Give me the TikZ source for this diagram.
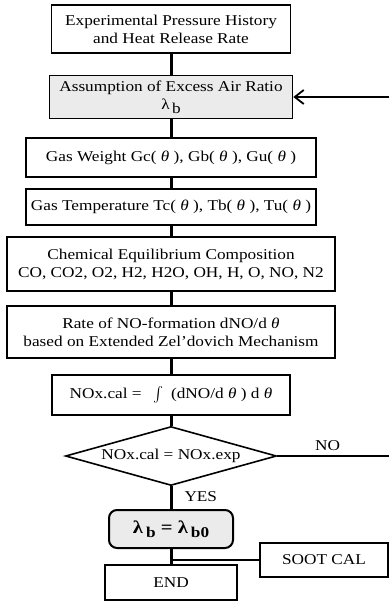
\documentclass[tikz,border=0pt]{standalone}
\usepackage{fontspec}
\setmainfont{Liberation Serif}[FakeStretch=1.15]
\usetikzlibrary{shapes.geometric, arrows.meta}

\newcommand{\subb}[1]{\raisebox{-4pt}{\fontsize{15pt}{15pt}\selectfont #1}}

\begin{document}
\begin{tikzpicture}[x=1pt, y=-1pt,
    box/.style={rectangle, draw, line width=1.6pt, inner sep=2pt,
                align=center, font=\fontsize{15pt}{18pt}\selectfont},
    shade/.style={fill=black!8},
    cond/.style={diamond, draw, line width=1.6pt, inner sep=0pt,
                 shape aspect=3.6, minimum width=211pt, minimum height=59pt,
                 font=\fontsize{15pt}{18pt}\selectfont},
    flow/.style={line width=3pt},
    back/.style={line width=1.8pt},
    lbl/.style={font=\fontsize{15pt}{18pt}\selectfont, inner sep=0pt},
  ]

  % page frame: 389 x 601 (1 unit = 1pt, y grows downwards)
  \useasboundingbox (0,0) rectangle (389,601);

  \def\xM{171}    % main column
  \def\xR{389}    % right edge, where the loop leaves the page

  % -- main column ----------------------------------------------------
  \node[box, minimum width=239pt, minimum height=48pt] (hist) at (\xM, 29)
    {Experimental Pressure History\\and Heat Release Rate};
  \node[box, shade, minimum width=243pt, minimum height=43pt] (assume) at (\xM, 97)
    {Assumption of Excess Air Ratio\\λ\,\subb{b}};
  \node[box, minimum width=290pt, minimum height=39pt] (weight) at (\xM, 157.5)
    {Gas Weight Gc( {\itshape θ} ), Gb( {\itshape θ} ), Gu( {\itshape θ} )};
  \node[box, minimum width=290pt, minimum height=36pt] (temp) at (\xM, 207)
    {Gas Temperature Tc( {\itshape θ} ), Tb( {\itshape θ} ), Tu( {\itshape θ} )};
  \node[box, minimum width=328pt, minimum height=54pt] (equil) at (\xM, 264)
    {Chemical Equilibrium Composition\\CO, CO2, O2, H2, H2O, OH, H, O, NO, N2};
  \node[box, minimum width=328pt, minimum height=52pt] (rate) at (\xM, 332)
    {Rate of NO-formation dNO/d {\itshape θ}\\based on Extended Zel'dovich Mechanism};
  \node[box, minimum width=238pt, minimum height=40pt] (integ) at (\xM, 395)
    {NOx.cal = \enspace\raisebox{-2pt}{\scalebox{1.5}{$\int$}}\enspace (dNO/d {\itshape θ} ) d {\itshape θ}};
  \node[cond] (test) at (\xM, 456) {NOx.cal = NOx.exp};
  \node[box, shade, rounded corners=8pt, line width=2pt,
        minimum width=124pt, minimum height=38pt,
        font=\fontsize{18pt}{20pt}\selectfont\bfseries] (lam) at (\xM, 529)
    {λ\,\subb{b} = λ\,\subb{b0}};
  \node[box, minimum width=132pt, minimum height=35pt] (done) at (\xM, 582.5) {END};

  % -- side branch ----------------------------------------------------
  \node[box, minimum width=128pt, minimum height=34pt] (soot) at (324, 560) {SOOT CAL};

  % loop back: leaves on the right, comes in again at the top
  \coordinate (retOut) at (\xR, 456);
  \coordinate (retIn)  at (\xR, 97);

  \draw[flow] (hist) -- (assume);
  \draw[flow] (assume) -- (weight);
  \draw[flow] (weight) -- (temp);
  \draw[flow] (temp) -- (equil);
  \draw[flow] (equil) -- (rate);
  \draw[flow] (rate) -- (integ);
  \draw[flow] (integ) -- (test);
  \draw[flow] (test) -- (lam)
    node[lbl, pos=0.45, right=12pt] {YES};
  \draw[flow] (lam) -- (done);

  \draw[back] (test.east) -- (retOut)
    node[lbl, pos=0.45, above=4pt] {NO};
  \draw[back, -{Straight Barb[length=9pt, width=14pt]}] (retIn) -- (assume.east);
  \draw[line width=1.4pt] (soot.west) -- (soot.west -| lam.south);

\end{tikzpicture}
\end{document}
